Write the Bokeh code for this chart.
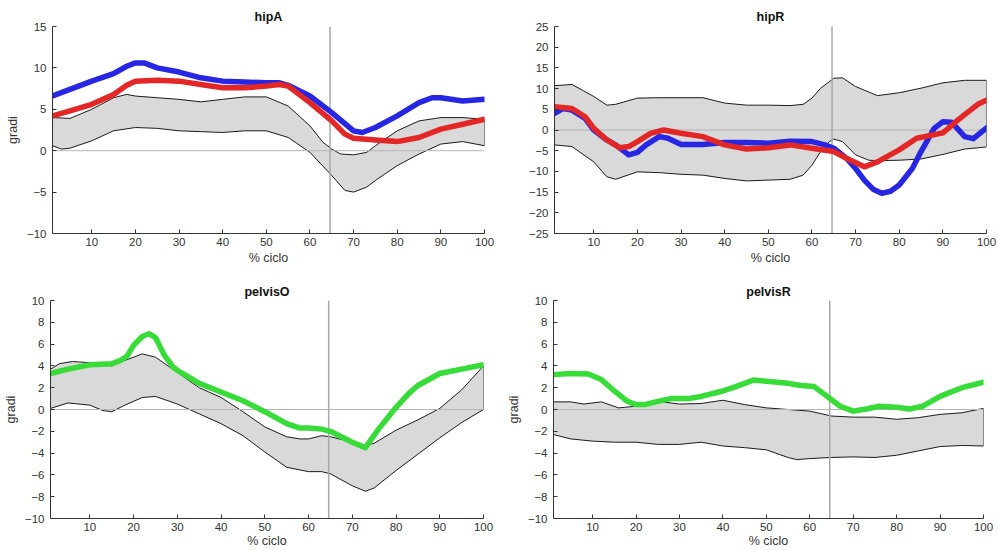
from bokeh.plotting import figure
from bokeh.layouts import column, row
from bokeh.models import Range1d, FixedTicker
from bokeh.embed import file_html
from bokeh.resources import INLINE

# ---------------- data ----------------
x_ticks = [10, 20, 30, 40, 50, 60, 70, 80, 90, 100]
toe_off = 64.6

# hipA
hipA_up_x = [1, 5, 10, 15, 18, 20, 25, 30, 35, 40, 45, 50, 55, 60, 63, 65, 67, 70, 73, 75, 80, 85, 90, 95, 100]
hipA_up_y = [4.0, 3.9, 5.0, 6.4, 6.8, 6.6, 6.4, 6.2, 5.9, 6.2, 6.5, 6.5, 5.4, 3.0, 1.0, 0.2, -0.4, -0.5, -0.2, 0.6, 2.4, 3.6, 4.0, 4.0, 3.8]
hipA_lo_x = [1, 3, 5, 10, 15, 20, 25, 30, 35, 40, 45, 50, 55, 60, 65, 68, 70, 73, 75, 80, 85, 90, 95, 100]
hipA_lo_y = [0.6, 0.2, 0.3, 1.2, 2.4, 2.8, 2.7, 2.4, 2.3, 2.2, 2.4, 2.4, 1.6, -0.2, -3.0, -4.8, -5.0, -4.4, -3.6, -1.8, -0.4, 0.8, 1.1, 0.6]
hipA_blue_x = [1, 5, 10, 15, 18, 20, 22, 25, 30, 35, 40, 45, 50, 53, 55, 60, 65, 70, 72, 75, 80, 85, 88, 90, 95, 100]
hipA_blue_y = [6.6, 7.4, 8.4, 9.3, 10.2, 10.6, 10.6, 10.0, 9.5, 8.8, 8.4, 8.3, 8.2, 8.2, 7.9, 6.6, 4.6, 2.4, 2.2, 2.8, 4.2, 5.8, 6.4, 6.4, 6.0, 6.2]
hipA_red_x = [1, 5, 10, 15, 18, 20, 25, 30, 35, 40, 45, 50, 53, 55, 60, 65, 68, 70, 75, 80, 85, 90, 95, 100]
hipA_red_y = [4.2, 4.8, 5.6, 6.8, 7.9, 8.4, 8.5, 8.4, 8.0, 7.6, 7.6, 7.8, 8.0, 7.8, 5.8, 3.6, 2.0, 1.5, 1.3, 1.1, 1.6, 2.6, 3.2, 3.8]

# hipR
hipR_up_x = [1, 5, 10, 13, 15, 20, 25, 30, 35, 40, 45, 50, 55, 58, 60, 62, 65, 67, 70, 75, 80, 85, 90, 95, 100]
hipR_up_y = [10.7, 11.0, 8.1, 6.0, 6.2, 7.7, 7.8, 7.8, 7.8, 6.5, 6.0, 6.0, 5.9, 6.2, 7.7, 10.1, 12.5, 12.6, 10.5, 8.3, 9.0, 10.1, 11.4, 12.0, 12.0]
hipR_lo_x = [1, 5, 10, 13, 15, 20, 25, 30, 35, 40, 45, 50, 55, 58, 60, 62, 64, 65, 67, 70, 73, 75, 80, 85, 90, 95, 100]
hipR_lo_y = [-3.6, -4.0, -7.7, -11.3, -11.9, -10.1, -10.3, -10.7, -10.9, -11.7, -12.3, -12.1, -11.9, -10.9, -8.5, -5.2, -2.8, -2.2, -2.8, -6.0, -7.3, -7.4, -7.3, -7.0, -5.9, -4.6, -4.1]
hipR_blue_x = [1, 3, 5, 8, 10, 13, 15, 18, 20, 22, 25, 27, 30, 35, 40, 45, 50, 55, 60, 63, 65, 68, 70, 72, 74, 76, 78, 80, 83, 85, 88, 90, 92, 95, 97, 100]
hipR_blue_y = [4.0, 5.2, 4.8, 2.8, 0.0, -2.4, -3.6, -6.0, -5.4, -3.6, -1.6, -2.0, -3.5, -3.5, -3.0, -3.0, -3.2, -2.7, -2.8, -3.6, -4.4, -6.9, -9.3, -12.1, -14.3, -15.3, -14.8, -13.3, -9.3, -5.2, 0.4, 2.0, 1.9, -1.6, -2.1, 0.5]
hipR_red_x = [1, 5, 8, 10, 13, 16, 18, 20, 23, 26, 30, 35, 40, 45, 50, 55, 60, 65, 68, 72, 75, 80, 84, 90, 93, 95, 98, 100]
hipR_red_y = [5.6, 5.2, 3.2, 0.4, -2.4, -4.3, -4.0, -2.8, -0.8, 0.0, -0.8, -1.6, -3.6, -4.6, -4.3, -3.6, -4.4, -5.2, -6.9, -8.9, -7.7, -4.8, -2.0, -0.7, 2.0, 3.7, 6.2, 7.2]

# pelvisO
pelO_up_x = [1, 3, 6, 10, 15, 18, 22, 25, 30, 35, 40, 45, 50, 55, 58, 60, 63, 65, 70, 73, 75, 80, 85, 90, 95, 100]
pelO_up_y = [3.7, 4.2, 4.4, 4.3, 4.0, 4.5, 5.1, 4.8, 3.4, 2.0, 1.1, -0.2, -1.6, -2.5, -2.7, -2.7, -2.4, -2.5, -3.0, -3.3, -3.1, -1.9, -0.95, 0.1, 1.8, 4.0]
pelO_lo_x = [1, 5, 10, 13, 15, 18, 22, 25, 30, 35, 40, 45, 50, 55, 60, 63, 65, 70, 73, 75, 80, 85, 90, 95, 100]
pelO_lo_y = [0.1, 0.6, 0.4, -0.1, -0.2, 0.4, 1.1, 1.2, 0.5, -0.4, -1.3, -2.4, -3.9, -5.3, -5.7, -5.7, -5.9, -7.0, -7.5, -7.2, -5.6, -4.1, -2.6, -1.2, 0.0]
pelO_green_x = [1, 5, 10, 15, 17, 18.5, 20, 22, 23.5, 25, 27, 29, 30, 35, 40, 45, 50, 55, 58, 60, 63, 65, 70, 73, 76, 78, 80, 83, 85, 90, 95, 100]
pelO_green_y = [3.3, 3.7, 4.1, 4.2, 4.5, 4.9, 5.9, 6.7, 6.95, 6.6, 5.0, 3.9, 3.6, 2.4, 1.6, 0.8, -0.2, -1.3, -1.7, -1.7, -1.8, -2.0, -3.0, -3.5, -1.8, -0.8, 0.2, 1.5, 2.2, 3.3, 3.7, 4.1]

# pelvisR
pelR_up_x = [1, 5, 8, 12, 16, 20, 25, 30, 35, 40, 45, 50, 55, 60, 65, 70, 75, 80, 85, 90, 95, 100]
pelR_up_y = [0.7, 0.7, 0.5, 0.7, 0.15, 0.3, 0.75, 0.5, 0.55, 0.85, 0.45, 0.15, 0.0, -0.15, -0.6, -0.7, -0.7, -0.9, -0.75, -0.45, -0.3, 0.1]
pelR_lo_x = [1, 5, 10, 15, 20, 25, 30, 35, 40, 45, 50, 55, 57, 60, 65, 70, 75, 80, 85, 90, 95, 100]
pelR_lo_y = [-2.3, -2.7, -2.9, -3.0, -3.0, -3.2, -3.2, -3.0, -3.35, -3.5, -3.7, -4.4, -4.6, -4.5, -4.4, -4.35, -4.4, -4.2, -3.8, -3.4, -3.3, -3.35]
pelR_green_x = [1, 5, 9, 12, 15, 18, 20, 22, 25, 28, 32, 35, 40, 43, 47, 50, 55, 58, 61, 64, 67, 70, 73, 76, 80, 83, 86, 90, 95, 100]
pelR_green_y = [3.2, 3.3, 3.25, 2.75, 1.7, 0.75, 0.45, 0.45, 0.75, 1.0, 1.0, 1.2, 1.7, 2.1, 2.7, 2.6, 2.4, 2.2, 2.1, 1.2, 0.3, -0.15, 0.05, 0.3, 0.2, 0.05, 0.3, 1.2, 2.0, 2.5]

BLUE = "#2626e3"
RED = "#e32626"
GREEN = "#38dc38"
FONT = "Liberation Sans"


def panel(title, ylo, yhi, ystep, up_x, up_y, lo_x, lo_y, series, ylabel,
          width, height, bl, br, bt, bb, title_gap, xlab_gap):
    p = figure(width=width, height=height, output_backend="svg", toolbar_location=None,
               x_range=Range1d(1, 100), y_range=Range1d(ylo, yhi),
               min_border_left=bl, min_border_right=br, min_border_top=bt, min_border_bottom=bb)
    p.title.text = title
    p.title.align = "center"
    p.title.text_font = FONT
    p.title.text_font_size = "12.5px"
    p.title.text_font_style = "bold"
    p.title.text_color = "#111111"
    p.title.offset = 0
    p.title.standoff = title_gap
    p.outline_line_color = None
    p.xgrid.visible = False
    p.ygrid.visible = False
    p.background_fill_color = "white"
    p.border_fill_color = "white"

    # band
    p.patch(up_x + lo_x[::-1], up_y + lo_y[::-1], fill_color="#d9d9d9",
            line_color="#1a1a1a", line_width=1)
    # reference lines
    p.line([1, 100], [0, 0], line_color="#b5b5b5", line_width=1)
    p.line([toe_off, toe_off], [ylo, yhi], line_color="#a8a8a8", line_width=1.5)
    for sx, sy, col in series:
        p.line(sx, sy, line_color=col, line_width=5.5, line_join="round", line_cap="round")

    ticks_y = list(range(ylo, yhi + 1, ystep))
    p.xaxis.ticker = FixedTicker(ticks=x_ticks)
    p.yaxis.ticker = FixedTicker(ticks=ticks_y)
    for ax in (p.xaxis, p.yaxis):
        ax.axis_line_color = "#333333"
        ax.axis_line_width = 1
        ax.major_tick_line_color = "#333333"
        ax.major_tick_in = 4
        ax.major_tick_out = 0
        ax.minor_tick_line_color = None
        ax.major_label_text_font = FONT
        ax.major_label_text_font_size = "11.5px"
        ax.major_label_text_color = "#333333"
        ax.axis_label_text_font = FONT
        ax.axis_label_text_font_size = "12.5px"
        ax.axis_label_text_font_style = "normal"
        ax.axis_label_text_color = "#333333"
        ax.axis_label_standoff = 0
    p.xaxis.major_label_standoff = 4
    p.xaxis.axis_label_standoff = xlab_gap
    p.yaxis.major_label_standoff = 6
    p.xaxis.axis_label = "% ciclo"
    if ylabel:
        p.yaxis.axis_label = "gradi"
        p.yaxis.axis_label_standoff = 4
    return p


p1 = panel("hipA", -10, 15, 5, hipA_up_x, hipA_up_y, hipA_lo_x, hipA_lo_y,
           [(hipA_blue_x, hipA_blue_y, BLUE), (hipA_red_x, hipA_red_y, RED)], True,
           500, 275, 52, 16, 26, 42, 5, 2)
p2 = panel("hipR", -25, 25, 5, hipR_up_x, hipR_up_y, hipR_lo_x, hipR_lo_y,
           [(hipR_blue_x, hipR_blue_y, BLUE), (hipR_red_x, hipR_red_y, RED)], False,
           498, 275, 54, 12, 26, 42, 5, 2)
p3 = panel("pelvisO", -10, 10, 2, pelO_up_x, pelO_up_y, pelO_lo_x, pelO_lo_y,
           [(pelO_green_x, pelO_green_y, GREEN)], True,
           500, 275, 50, 17, 25, 32, 4, 0)
p4 = panel("pelvisR", -10, 10, 2, pelR_up_x, pelR_up_y, pelR_lo_x, pelR_lo_y,
           [(pelR_green_x, pelR_green_y, GREEN)], True,
           498, 275, 53, 15, 25, 32, 4, 0)

layout = column(row(p1, p2), row(p3, p4))
open("out.html", "w").write(file_html(layout, INLINE))
